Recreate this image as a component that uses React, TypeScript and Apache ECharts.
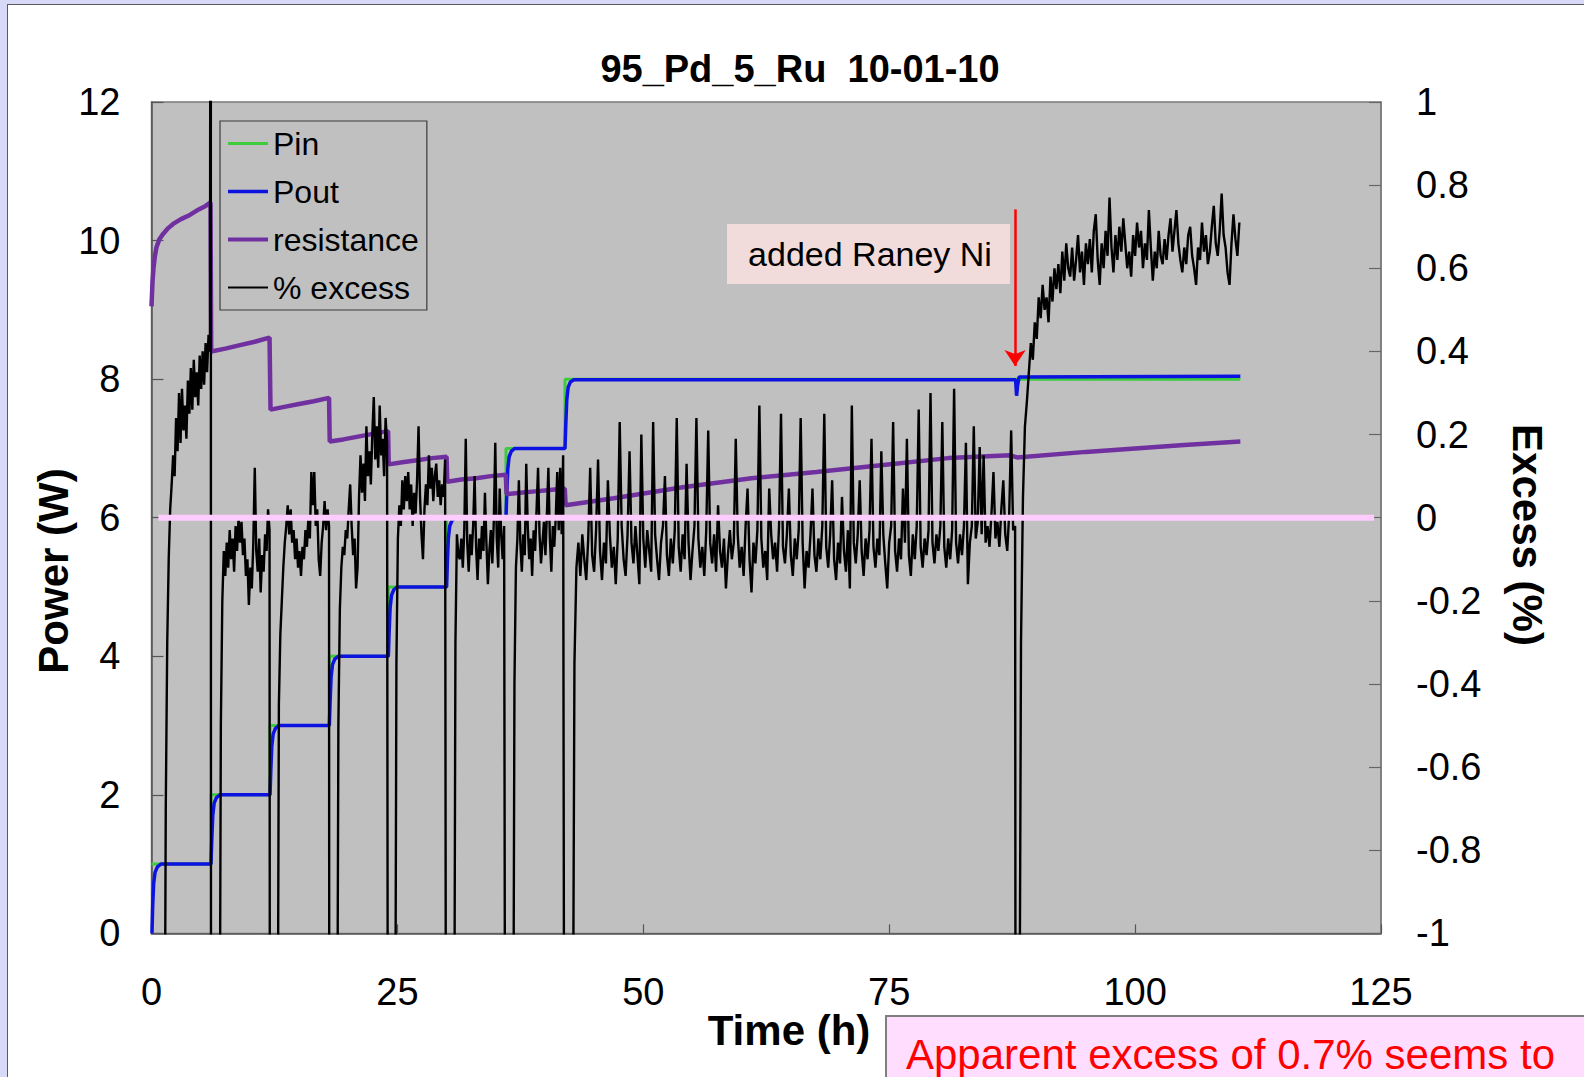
import React, { useEffect, useRef } from "react";
import * as echarts from "echarts";

const FONT = '"Liberation Sans", Arial, Helvetica, sans-serif';

// ---- Input power: one level per step, each level starts at the listed time ----
const pinStepTimes = [0, 6.05, 12.05, 18.08, 24.08, 30.0, 36.04, 42.04];
const pinStepLevels = [1, 2, 3, 4, 5, 6, 7, 8];
const runEndTime = 110.7;

// ---- Output power (W) ----
const poutPoints: [number, number][] = [
  [0.05, 0], [0.12, 0.4], [0.22, 0.72], [0.36, 0.88], [0.6, 0.96], [0.95, 1.0],
  [6.05, 1.0], [6.13, 1.35], [6.23, 1.7], [6.37, 1.88], [6.6, 1.96], [6.95, 2.0],
  [12.05, 2.0], [12.13, 2.35], [12.23, 2.7], [12.37, 2.88], [12.6, 2.96], [12.95, 3.0],
  [18.08, 3.0], [18.16, 3.35], [18.26, 3.7], [18.4, 3.88], [18.63, 3.96], [18.98, 4.0],
  [24.08, 4.0], [24.16, 4.35], [24.26, 4.7], [24.4, 4.88], [24.63, 4.96], [24.98, 5.0],
  [30.0, 5.0], [30.08, 5.35], [30.18, 5.7], [30.32, 5.88], [30.55, 5.96], [30.9, 6.0],
  [36.04, 6.0], [36.12, 6.35], [36.22, 6.7], [36.36, 6.88], [36.59, 6.96], [36.94, 7.0],
  [42.04, 7.0], [42.12, 7.35], [42.22, 7.7], [42.36, 7.88], [42.59, 7.96], [42.94, 7.99],
  [87.85, 7.99], [87.95, 7.76], [88.05, 7.9], [88.2, 8.03], [110.7, 8.04],
];

// ---- Cell resistance (plotted on the power scale) ----
const resistancePoints: [number, number][] = [
  [0, 9.05], [0.1, 9.4], [0.2, 9.6], [0.35, 9.78], [0.5, 9.9], [0.8, 10.02], [1.2, 10.1],
  [1.7, 10.18], [2.2, 10.24], [3.0, 10.31], [3.9, 10.37], [4.8, 10.45], [5.5, 10.5], [6.0, 10.55],
  [6.07, 8.4], [7.5, 8.44], [9, 8.49], [10.5, 8.54], [12.0, 8.6],
  [12.1, 7.56], [13.5, 7.6], [15, 7.64], [16.5, 7.68], [18.05, 7.73],
  [18.12, 7.1], [19.5, 7.13], [21, 7.17], [22.5, 7.21], [24.05, 7.25],
  [24.12, 6.77], [25.5, 6.8], [27, 6.83], [28.5, 6.86], [30.0, 6.88],
  [30.07, 6.52], [31.5, 6.55], [33, 6.57], [34.5, 6.6], [36.02, 6.62],
  [36.1, 6.34], [37.5, 6.36], [39, 6.38], [40.5, 6.4], [42.02, 6.42],
  [42.1, 6.18], [47, 6.28], [54, 6.44], [61, 6.57], [67.6, 6.66], [74.4, 6.76],
  [81, 6.86], [87.3, 6.9], [88, 6.87], [95, 6.95], [100, 7.0], [105, 7.05], [110.7, 7.1],
];

// ---- % excess, recorded in runs between power steps ----
const excessRun1 = [
  -1.6, -0.7, -0.3, -0.1, 0.02, 0.08, 0.15, 0.1, 0.24, 0.16,
  0.3, 0.18, 0.31, 0.21, 0.27, 0.19, 0.33, 0.25, 0.36, 0.26,
  0.38, 0.29, 0.35, 0.27, 0.39, 0.31, 0.4, 0.32, 0.42, 0.35,
  0.44, 0.4,
];
const excessRun2 = [
  -1.6, -0.5, -0.2, -0.08, -0.14, -0.06, -0.12, -0.03, -0.1, -0.05,
  -0.13, -0.02, -0.08, 0.0, -0.06, -0.01, -0.09, -0.05, -0.14, -0.1,
  -0.21, -0.12, -0.17, -0.06, 0.12, -0.08, -0.13, -0.05, -0.18, -0.09,
  -0.13, -0.04, -0.08, 0.02, -0.03,
];
const excessRun3 = [
  -1.6, -0.45, -0.28, -0.2, -0.12, -0.06, -0.02, 0.03, -0.04, 0.02,
  -0.06, -0.03, -0.1, -0.05, -0.12, -0.08, -0.14, -0.07, -0.1, -0.03,
  -0.07, 0.0, -0.05, 0.11, 0.03, 0.11, -0.02, 0.02, -0.1, -0.14,
  -0.06, -0.02, 0.04, -0.03, 0.02, -0.02,
];
const excessRun4 = [
  -1.6, -0.5, -0.22, -0.12, -0.07, -0.09, -0.03, -0.05, 0.02, 0.08,
  -0.02, -0.09, -0.05, -0.17, -0.12, 0.05, 0.15, 0.06, 0.13, 0.04,
  0.22, 0.1, 0.16, 0.08, 0.2, 0.29, 0.14, 0.22, 0.12, 0.27,
  0.15, 0.19, 0.1, 0.24, 0.18,
];
const excessRun5 = [
  -1.6, -0.35, -0.05, 0.03, -0.02, 0.09, 0.02, 0.1, 0.04, 0.11,
  0.02, 0.08, -0.02, 0.06, 0.01, 0.09, 0.22, 0.05, -0.04, -0.1,
  0.02, 0.08, 0.03, 0.15, 0.07, 0.12, 0.04, 0.1, 0.13, 0.05,
  0.09, 0.03, 0.08, 0.05, 0.14,
];
const excessRun6 = [
  -1.6, -0.3, -0.04, -0.09, -0.1, -0.05, -0.12, -0.03, 0.19, -0.06,
  -0.13, -0.04, -0.09, -0.02, 0.1, -0.07, -0.15, -0.05, -0.1, -0.02,
  -0.08, 0.06, -0.06, -0.16, -0.08, -0.03, -0.11, -0.01, 0.18, -0.05,
  -0.12, 0.07, -0.04, -0.1, -0.02,
];
const excessRun7 = [
  -1.6, -0.4, -0.12, -0.05, 0.09, -0.06, -0.13, -0.04, -0.09, 0.13,
  -0.02, -0.1, -0.05, -0.14, -0.03, -0.08, 0.02, 0.12, -0.04, -0.11,
  -0.06, -0.01, -0.09, 0.01, 0.12, -0.05, -0.13, -0.02, -0.07, 0.0,
  0.11, -0.03, 0.12, -0.04, 0.15,
];
const excessRun8 = [
  -1.6, -0.35, -0.12, -0.06, -0.14, -0.04, -0.1, -0.15, -0.05, 0.12,
  -0.09, -0.13, -0.03, 0.14, -0.08, -0.15, -0.06, -0.11, 0.09, -0.04,
  -0.12, -0.07, -0.16, -0.05, 0.23, -0.02, -0.1, -0.14, -0.04, 0.16,
  -0.06, -0.11, -0.02, -0.09, -0.16, 0.2, -0.05, -0.12, -0.03, -0.08,
  -0.13, 0.23, -0.04, -0.1, -0.15, -0.06, -0.02, 0.1, -0.09, -0.14,
  -0.05, -0.11, -0.03, 0.24, -0.07, -0.13, -0.04, -0.1, 0.13, -0.06,
  -0.15, -0.08, -0.02, 0.24, -0.05, -0.12, -0.07, -0.14, -0.03, 0.21,
  -0.06, -0.11, -0.04, -0.13, 0.03, -0.08, -0.12, -0.05, -0.17, -0.09,
  -0.03, -0.1, -0.06, 0.19, -0.04, -0.12, -0.07, -0.14, -0.02, 0.07,
  -0.1, -0.18, -0.06, -0.11, -0.03, 0.27, -0.05, -0.12, -0.08, -0.15,
  0.07, -0.04, -0.1, -0.06, -0.13, -0.02, 0.25, -0.07, -0.11, -0.04,
  0.07, -0.09, -0.14, -0.05, -0.1, -0.03, 0.24, -0.06, -0.17, -0.08,
  -0.12, -0.04, 0.07, -0.09, -0.13, -0.05, -0.1, -0.02, 0.25, -0.07,
  -0.12, -0.04, 0.09, -0.1, -0.15, -0.06, -0.11, 0.05, -0.08, -0.13,
  -0.03, -0.17, 0.27, -0.06, -0.11, -0.04, 0.09, -0.08, -0.14, -0.05,
  -0.1, -0.03, 0.19, -0.07, -0.12, -0.05, -0.09, 0.16, -0.04, -0.11,
  -0.17, -0.06, -0.02, 0.23, -0.08, -0.13, -0.05, -0.1, 0.07, -0.06,
  0.19, -0.09, -0.14, -0.04, -0.1, -0.02, 0.26, -0.07, -0.12, -0.05,
  -0.09, -0.03, 0.3, -0.06, -0.11, -0.04, -0.08, -0.02, 0.23, -0.07,
  -0.12, -0.05, -0.1, -0.03, 0.31, -0.06, -0.11, -0.04, -0.09, -0.02,
  0.18, -0.16, -0.06, -0.02, 0.22, -0.05, -0.01, 0.17, -0.04, 0.15,
  -0.06, -0.02, -0.07, 0.01, 0.11, -0.05, -0.01, -0.07, 0.02, 0.09,
  -0.04, -0.08, 0.01, 0.21, -0.03, -0.02,
];
const excessRun9 = [
  -1.6, -0.3, 0.05, 0.22, 0.28, 0.35, 0.42, 0.38, 0.47, 0.43,
  0.53, 0.48, 0.56, 0.5, 0.53, 0.47, 0.58, 0.52, 0.6, 0.55,
  0.61, 0.54, 0.64, 0.57, 0.66, 0.6, 0.58, 0.65, 0.57, 0.62,
  0.68, 0.59, 0.64, 0.56, 0.66, 0.61, 0.67, 0.59, 0.69, 0.73,
  0.62, 0.56, 0.66, 0.6, 0.69, 0.63, 0.77, 0.65, 0.59, 0.68,
  0.62, 0.7, 0.64, 0.72, 0.66, 0.6, 0.64, 0.58, 0.68, 0.63,
  0.71, 0.65, 0.69, 0.6, 0.66, 0.62, 0.74, 0.65, 0.57, 0.64,
  0.6, 0.69, 0.63, 0.61, 0.67, 0.62, 0.68, 0.72, 0.64, 0.69,
  0.74, 0.66, 0.62, 0.59, 0.65, 0.61, 0.68, 0.7, 0.63, 0.6,
  0.56, 0.65, 0.62, 0.71, 0.64, 0.68, 0.61, 0.64, 0.7, 0.75,
  0.66, 0.63, 0.69, 0.78, 0.68, 0.65, 0.59, 0.56, 0.66, 0.73,
  0.67, 0.63, 0.71,
];
const excessRunStarts = [1.3, 6.9, 12.8, 18.85, 24.75, 30.75, 36.75, 42.8, 88.2];
const excessRunSteps = [0.15, 0.15, 0.15, 0.15, 0.15, 0.15, 0.15, 0.2, 0.2];
// readings where each run ends as the power is stepped (off the -1..1 scale)
const excessRunEnds: [number, number][][] = [
  [[6.02, 3.0], [6.06, -3.0]],
  [[12.07, -3.0]],
  [[18.1, -3.0]],
  [[24.1, -3.0]],
  [[30.02, -3.0]],
  [[36.06, -3.0]],
  [[42.06, -3.0]],
  [[87.9, -3.0]],
  [],
];
const excessRuns = [
  excessRun1, excessRun2, excessRun3, excessRun4, excessRun5,
  excessRun6, excessRun7, excessRun8, excessRun9,
];

// zero-excess reference line and the annotation arrow
const zeroLinePoints: [number, number][] = [[0.7, 0], [124.3, 0]];
const arrowFrom: [number, number] = [87.8, 10.45];
const arrowTo: [number, number] = [87.8, 8.19];

const legendNames = ["Pin", "Pout", "resistance", "% excess"];
const legendStroke = [3, 3.5, 4, 2];

function buildPin(): [number, number][] {
  const out: [number, number][] = pinStepTimes.map((t, i) => [t, pinStepLevels[i]]);
  out.push([runEndTime, pinStepLevels[pinStepLevels.length - 1]]);
  return out;
}

function buildExcess(): [number, number][] {
  const out: [number, number][] = [];
  excessRuns.forEach((vals, r) => {
    const t0 = excessRunStarts[r];
    const dt = excessRunSteps[r];
    vals.forEach((v, i) => out.push([+(t0 + i * dt).toFixed(3), v]));
    excessRunEnds[r].forEach((p) => out.push(p));
  });
  return out;
}

export default function App() {
  const ref = useRef<HTMLDivElement>(null);

  useEffect(() => {
    if (!ref.current) return;
    const chart = echarts.init(ref.current, null, { renderer: "svg" });

    const axisLabel = { color: "#000", fontSize: 38, fontFamily: FONT };

    chart.setOption({
      animation: false,
      grid: {
        left: 151.5,
        right: 203,
        top: 102,
        bottom: 143.6,
        show: true,
        backgroundColor: "#C0C0C0",
        borderColor: "#7a7a7a",
        borderWidth: 1.5,
        outerBoundsMode: "none",
      },
      legend: {
        data: legendNames.map((name, i) => ({
          name,
          icon: `path://M0,0h40v${legendStroke[i]}h-40z`,
        })),
        orient: "vertical",
        left: 220,
        top: 121,
        padding: [4.5, 8, 4.5, 8],
        itemWidth: 40,
        itemHeight: 14,
        itemGap: 12,
        symbolKeepAspect: true,
        borderColor: "#3a3a3a",
        borderWidth: 1.2,
        textStyle: { fontSize: 32, color: "#000", fontFamily: FONT, lineHeight: 36 },
      },
      xAxis: {
        type: "value",
        min: 0,
        max: 125,
        interval: 25,
        axisLine: { show: true, lineStyle: { color: "#555", width: 1.5 } },
        axisTick: { show: true, inside: true, length: 9, lineStyle: { color: "#555", width: 1.2 } },
        axisLabel: { ...axisLabel, margin: 40 },
        splitLine: { show: false },
      },
      yAxis: [
        {
          type: "value",
          min: 0,
          max: 12,
          interval: 2,
          axisLine: { show: true, lineStyle: { color: "#555", width: 1.5 } },
          axisTick: { show: true, inside: true, length: 12, lineStyle: { color: "#555", width: 1.2 } },
          axisLabel: { ...axisLabel, margin: 31 },
          splitLine: { show: false },
        },
        {
          type: "value",
          position: "right",
          min: -1,
          max: 1,
          interval: 0.2,
          axisLine: { show: true, lineStyle: { color: "#7a7a7a", width: 1.5 } },
          axisTick: { show: true, inside: true, length: 12, lineStyle: { color: "#666", width: 1.2 } },
          axisLabel: {
            ...axisLabel,
            margin: 35,
            formatter: (v: number) => String(Math.round(v * 10) / 10),
          },
          splitLine: { show: false },
        },
      ],
      series: [
        {
          name: "Pin",
          type: "line",
          data: buildPin(),
          step: "end",
          symbol: "none",
          lineStyle: { color: "#3ccc3c", width: 3 },
          itemStyle: { color: "#3ccc3c" },
          z: 2,
        },
        {
          name: "Pout",
          type: "line",
          data: poutPoints,
          symbol: "none",
          lineStyle: { color: "#0c12e0", width: 3.5 },
          itemStyle: { color: "#0c12e0" },
          z: 3,
          markLine: {
            silent: true,
            symbol: ["none", "arrow"],
            symbolSize: 16,
            label: { show: false },
            lineStyle: { color: "#ff0000", width: 2.5, type: "solid" },
            data: [[{ coord: arrowFrom }, { coord: arrowTo }]],
          },
        },
        {
          name: "resistance",
          type: "line",
          data: resistancePoints,
          symbol: "none",
          lineStyle: { color: "#7030a0", width: 4.5 },
          itemStyle: { color: "#7030a0" },
          z: 4,
        },
        {
          name: "% excess",
          type: "line",
          yAxisIndex: 1,
          data: buildExcess(),
          symbol: "none",
          lineStyle: { color: "#000", width: 2.4 },
          itemStyle: { color: "#000" },
          z: 5,
        },
        {
          name: "zero",
          type: "line",
          yAxisIndex: 1,
          data: zeroLinePoints,
          symbol: "none",
          silent: true,
          lineStyle: { color: "#ffccff", width: 6 },
          z: 6,
        },
      ],
      graphic: [
        {
          type: "text",
          x: 800,
          y: 69,
          style: {
            text: "95_Pd_5_Ru  10-01-10",
            fill: "#000",
            fontSize: 38,
            fontWeight: "bold",
            fontFamily: FONT,
            align: "center",
            verticalAlign: "middle",
          },
        },
        {
          type: "text",
          x: 53,
          y: 571,
          rotation: Math.PI / 2,
          style: {
            text: "Power (W)",
            fill: "#000",
            fontSize: 42,
            fontWeight: "bold",
            fontFamily: FONT,
            align: "center",
            verticalAlign: "middle",
          },
        },
        {
          type: "text",
          x: 1527,
          y: 535,
          rotation: -Math.PI / 2,
          style: {
            text: "Excess (%)",
            fill: "#000",
            fontSize: 42,
            fontWeight: "bold",
            fontFamily: FONT,
            align: "center",
            verticalAlign: "middle",
          },
        },
        {
          type: "text",
          x: 789,
          y: 1030,
          style: {
            text: "Time (h)",
            fill: "#000",
            fontSize: 42,
            fontWeight: "bold",
            fontFamily: FONT,
            align: "center",
            verticalAlign: "middle",
          },
        },
        {
          type: "rect",
          z: 100,
          shape: { x: 727, y: 224, width: 283, height: 60 },
          style: { fill: "#f2dcdb" },
        },
        {
          type: "text",
          z: 101,
          x: 870,
          y: 254,
          style: {
            text: "added Raney Ni",
            fill: "#000",
            fontSize: 34,
            fontFamily: FONT,
            align: "center",
            verticalAlign: "middle",
          },
        },
        {
          type: "rect",
          z: 100,
          shape: { x: 886, y: 1016, width: 720, height: 80 },
          style: { fill: "#ffddff", stroke: "#7f7f7f", lineWidth: 2 },
        },
        {
          type: "text",
          z: 101,
          x: 906,
          y: 1054,
          style: {
            text: "Apparent excess of 0.7% seems to",
            fill: "#ff0000",
            fontSize: 42,
            fontFamily: FONT,
            align: "left",
            verticalAlign: "middle",
          },
        },
      ],
    });

    return () => chart.dispose();
  }, []);

  return (
    <div
      style={{
        position: "fixed",
        left: 0,
        top: 0,
        width: 1584,
        height: 1077,
        overflow: "hidden",
        background: "#d8d8f7",
      }}
    >
      <div
        style={{
          position: "absolute",
          left: 7,
          top: 4,
          width: 1600,
          height: 1100,
          background: "#ffffff",
          borderLeft: "1.5px solid #5b5b5b",
          borderTop: "1.5px solid #5b5b5b",
        }}
      />
      <div ref={ref} style={{ position: "absolute", left: 0, top: 0, width: 1584, height: 1077 }} />
    </div>
  );
}
